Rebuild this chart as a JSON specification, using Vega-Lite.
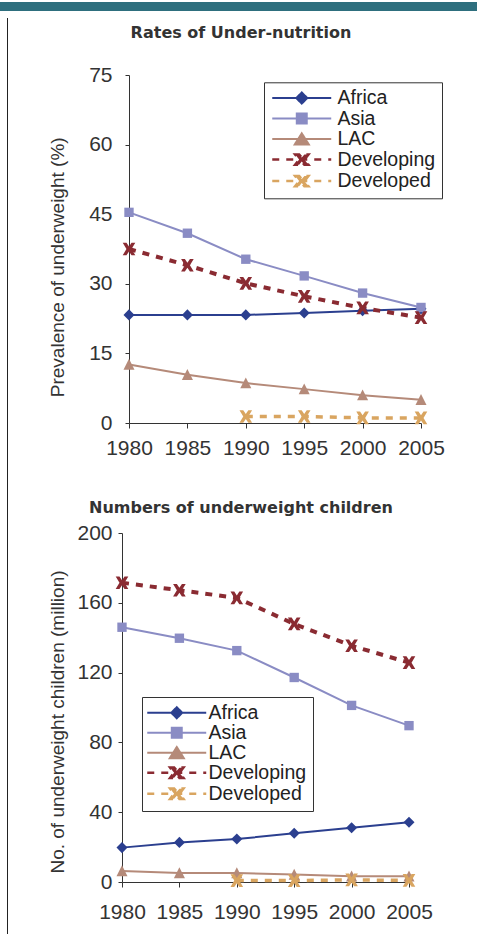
{
  "$schema": "https://vega.github.io/schema/vega-lite/v6.json",
  "padding": 0,
  "spacing": 0,
  "background": "white",
  "config": {
    "view": {"stroke": null},
    "axis": {"grid": false, "domainColor": "#333", "tickColor": "#333", "labelFont": "Liberation Sans", "labelFontSize": 21, "labelColor": "#333", "titleFont": "Liberation Sans", "titleFontSize": 19, "titleFontWeight": "normal", "titleColor": "#333", "labelFlush": false, "labelOverlap": false},
    "title": {"font": "DejaVu Sans", "fontWeight": "bold", "color": "#333", "fontSize": 16},
    "legend": {"title": null, "padding": 6, "strokeColor": "#333", "fillColor": "#ffffff", "labelFont": "Liberation Sans", "labelFontSize": 19.5, "labelColor": "#222", "symbolSize": 144, "symbolStrokeWidth": 2, "labelLimit": 300}
  },
  "datasets": {
    "one": [{"k": 1}],
    "rates": [
      {"series": "Africa", "year": 1980, "value": 23.3},
      {"series": "Africa", "year": 1985, "value": 23.3},
      {"series": "Africa", "year": 1990, "value": 23.3},
      {"series": "Africa", "year": 1995, "value": 23.7},
      {"series": "Africa", "year": 2000, "value": 24.2},
      {"series": "Africa", "year": 2005, "value": 24.6},
      {"series": "Asia", "year": 1980, "value": 45.4},
      {"series": "Asia", "year": 1985, "value": 40.9},
      {"series": "Asia", "year": 1990, "value": 35.3},
      {"series": "Asia", "year": 1995, "value": 31.7},
      {"series": "Asia", "year": 2000, "value": 28.0},
      {"series": "Asia", "year": 2005, "value": 24.9},
      {"series": "LAC", "year": 1980, "value": 12.6},
      {"series": "LAC", "year": 1985, "value": 10.4},
      {"series": "LAC", "year": 1990, "value": 8.6},
      {"series": "LAC", "year": 1995, "value": 7.3},
      {"series": "LAC", "year": 2000, "value": 6.0},
      {"series": "LAC", "year": 2005, "value": 5.0},
      {"series": "Developing", "year": 1980, "value": 37.5},
      {"series": "Developing", "year": 1985, "value": 34.0},
      {"series": "Developing", "year": 1990, "value": 30.1},
      {"series": "Developing", "year": 1995, "value": 27.3},
      {"series": "Developing", "year": 2000, "value": 24.8},
      {"series": "Developing", "year": 2005, "value": 22.7},
      {"series": "Developed", "year": 1990, "value": 1.4},
      {"series": "Developed", "year": 1995, "value": 1.4},
      {"series": "Developed", "year": 2000, "value": 1.1},
      {"series": "Developed", "year": 2005, "value": 1.1}
    ],
    "numbers": [
      {"series": "Africa", "year": 1980, "value": 19.7},
      {"series": "Africa", "year": 1985, "value": 22.7},
      {"series": "Africa", "year": 1990, "value": 24.6},
      {"series": "Africa", "year": 1995, "value": 27.9},
      {"series": "Africa", "year": 2000, "value": 31.1},
      {"series": "Africa", "year": 2005, "value": 34.2},
      {"series": "Asia", "year": 1980, "value": 146.0},
      {"series": "Asia", "year": 1985, "value": 139.7},
      {"series": "Asia", "year": 1990, "value": 132.6},
      {"series": "Asia", "year": 1995, "value": 117.2},
      {"series": "Asia", "year": 2000, "value": 101.2},
      {"series": "Asia", "year": 2005, "value": 89.6},
      {"series": "LAC", "year": 1980, "value": 6.3},
      {"series": "LAC", "year": 1985, "value": 5.2},
      {"series": "LAC", "year": 1990, "value": 5.2},
      {"series": "LAC", "year": 1995, "value": 4.3},
      {"series": "LAC", "year": 2000, "value": 3.3},
      {"series": "LAC", "year": 2005, "value": 3.3},
      {"series": "Developing", "year": 1980, "value": 171.5},
      {"series": "Developing", "year": 1985, "value": 167.2},
      {"series": "Developing", "year": 1990, "value": 162.8},
      {"series": "Developing", "year": 1995, "value": 147.9},
      {"series": "Developing", "year": 2000, "value": 135.4},
      {"series": "Developing", "year": 2005, "value": 125.7},
      {"series": "Developed", "year": 1990, "value": 0.8},
      {"series": "Developed", "year": 1995, "value": 0.8},
      {"series": "Developed", "year": 2000, "value": 1.2},
      {"series": "Developed", "year": 2005, "value": 0.9}
    ]
  },
  "vconcat": [
    {"data": {"name": "one"}, "mark": {"type": "text", "text": ""}, "width": 477, "height": 9, "view": {"fill": "#2e6f7e", "stroke": null}},
    {
      "spacing": 0,
      "hconcat": [
        {"data": {"name": "one"}, "mark": {"type": "text", "text": ""}, "width": 7, "height": 1},
        {"data": {"name": "one"}, "mark": {"type": "text", "text": ""}, "width": 1, "height": 922, "view": {"fill": "#222222", "stroke": null}},
        {"data": {"name": "one"}, "mark": {"type": "text", "text": ""}, "width": 40, "height": 1},
        {
          "spacing": 0,
          "bounds": "flush",
          "resolve": {"scale": {"x": "independent", "y": "independent", "color": "independent", "fill": "independent", "stroke": "independent", "shape": "independent", "strokeDash": "independent", "strokeWidth": "independent"}, "legend": {"color": "independent", "shape": "independent", "fill": "independent", "stroke": "independent", "strokeDash": "independent", "strokeWidth": "independent"}},
          "vconcat": [
            {"data": {"name": "one"}, "mark": {"type": "text", "text": ""}, "width": 1, "height": 56.7},
            {
              "width": 299,
              "height": 348,
              "data": {"name": "rates"},
              "title": {"text": "Rates of Under-nutrition", "anchor": "middle", "frame": "group", "dx": -30.5, "offset": 23},
              "encoding": {
                "x": {"field": "year", "type": "quantitative", "scale": {"domain": [1980, 2005], "range": [7, 299], "nice": false, "zero": false}, "axis": {"values": [1980, 1985, 1990, 1995, 2000, 2005], "format": "d", "title": null, "tickSize": 5, "labelPadding": 9.5}},
                "y": {"field": "value", "type": "quantitative", "scale": {"domain": [0, 75], "nice": false}, "axis": {"values": [0, 15, 30, 45, 60, 75], "offset": -7, "title": "Prevalence of underweight (%)", "tickSize": 4, "labelPadding": 13, "titleX": -61.7, "titleY": 191.8}}
              },
              "layer": [
                {"transform": [{"filter": {"field": "series", "oneOf": ["Africa", "Asia", "LAC"]}}], "mark": {"type": "line", "strokeWidth": 2}, "encoding": {"color": {"field": "series", "type": "nominal", "scale": {"domain": ["Africa", "Asia", "LAC"], "range": ["#2b3f8f", "#8a8cc4", "#b58a79"]}, "legend": null}}},
                {"transform": [{"filter": {"field": "series", "equal": "Developing"}}], "mark": {"type": "line", "strokeWidth": 4, "strokeDash": [7, 7], "color": "#8a2b32"}},
                {"transform": [{"filter": {"field": "series", "equal": "Developed"}}], "mark": {"type": "line", "strokeWidth": 3.5, "strokeDash": [7, 7], "color": "#d9a560"}},
                {"transform": [{"filter": {"field": "series", "equal": "Africa"}}], "mark": {"type": "point", "filled": true, "opacity": 1, "size": 169, "color": "#2b3f8f", "shape": "M0,-0.85L0.85,0L0,0.85L-0.85,0Z"}},
                {"transform": [{"filter": {"field": "series", "equal": "Asia"}}], "mark": {"type": "point", "filled": true, "opacity": 1, "size": 169, "color": "#8a8cc4", "shape": "M-0.72,-0.72L0.72,-0.72L0.72,0.72L-0.72,0.72Z"}},
                {"transform": [{"filter": {"field": "series", "equal": "LAC"}}], "mark": {"type": "point", "filled": true, "opacity": 1, "size": 169, "color": "#b58a79", "shape": "M0,-0.88L0.85,0.8L-0.85,0.8Z"}},
                {"transform": [{"filter": {"field": "series", "equal": "Developing"}}], "mark": {"type": "point", "filled": true, "opacity": 1, "size": 169, "color": "#8a2b32", "shape": "M-0.97,-0.97L-0.39,-0.97L0,-0.39L0.39,-0.97L0.97,-0.97L0.39,0L0.97,0.97L0.39,0.97L0,0.39L-0.39,0.97L-0.97,0.97L-0.39,0Z"}},
                {"transform": [{"filter": {"field": "series", "equal": "Developed"}}], "mark": {"type": "point", "filled": true, "opacity": 1, "size": 169, "color": "#d9a560", "shape": "M-0.97,-0.97L-0.39,-0.97L0,-0.39L0.39,-0.97L0.97,-0.97L0.39,0L0.97,0.97L0.39,0.97L0,0.39L-0.39,0.97L-0.97,0.97L-0.39,0Z"}},
                {
                  "transform": [{"filter": "false"}],
                  "mark": {"type": "point", "opacity": 1},
                  "encoding": {
                    "shape": {"field": "series", "type": "nominal", "scale": {"domain": ["Africa", "Asia", "LAC", "Developing", "Developed"], "range": ["M-1.25,0L8.58,0M3.67,-0.92L4.59,0L3.67,0.92L2.75,0Z", "M-1.25,0L8.58,0M2.84,-0.83L4.5,-0.83L4.5,0.83L2.84,0.83Z", "M-1.25,0L8.58,0M3.67,-0.95L4.84,0.9L2.5,0.9Z", "M-1.25,0L8.58,0M2.57,-0.85L3.23,-0.85L3.67,-0.34L4.11,-0.85L4.77,-0.85L4.11,0L4.77,0.85L4.11,0.85L3.67,0.34L3.23,0.85L2.57,0.85L3.23,0Z", "M-1.25,0L8.58,0M2.57,-0.85L3.23,-0.85L3.67,-0.34L4.11,-0.85L4.77,-0.85L4.11,0L4.77,0.85L4.11,0.85L3.67,0.34L3.23,0.85L2.57,0.85L3.23,0Z"]}, "legend": {"orient": "none", "legendX": 142, "legendY": 7.3, "labelOffset": 48, "rowPadding": -0.5, "title": null}},
                    "fill": {"field": "series", "type": "nominal", "scale": {"domain": ["Africa", "Asia", "LAC", "Developing", "Developed"], "range": ["#2b3f8f", "#8a8cc4", "#b58a79", "#8a2b32", "#d9a560"]}, "legend": {"orient": "none", "legendX": 142, "legendY": 7.3, "labelOffset": 48, "rowPadding": -0.5, "title": null}},
                    "stroke": {"field": "series", "type": "nominal", "scale": {"domain": ["Africa", "Asia", "LAC", "Developing", "Developed"], "range": ["#2b3f8f", "#8a8cc4", "#b58a79", "#8a2b32", "#d9a560"]}, "legend": {"orient": "none", "legendX": 142, "legendY": 7.3, "labelOffset": 48, "rowPadding": -0.5, "title": null}},
                    "strokeDash": {"field": "series", "type": "nominal", "scale": {"domain": ["Africa", "Asia", "LAC", "Developing", "Developed"], "range": [[1, 0], [1, 0], [1, 0], [7, 7], [7, 7]]}, "legend": {"orient": "none", "legendX": 142, "legendY": 7.3, "labelOffset": 48, "rowPadding": -0.5, "title": null}},
                    "strokeWidth": {"field": "series", "type": "nominal", "scale": {"type": "ordinal", "domain": ["Africa", "Asia", "LAC", "Developing", "Developed"], "range": [2, 2, 2, 2.6, 2.6]}, "legend": {"orient": "none", "legendX": 142, "legendY": 7.3, "labelOffset": 48, "rowPadding": -0.5, "title": null}}
                  }
                }
              ]
            },
            {"data": {"name": "one"}, "mark": {"type": "text", "text": ""}, "width": 1, "height": 109.3},
            {
              "width": 287,
              "height": 349,
              "data": {"name": "numbers"},
              "title": {"text": "Numbers of underweight children", "anchor": "middle", "frame": "group", "dx": -24.5, "offset": 6},
              "encoding": {
                "x": {"field": "year", "type": "quantitative", "scale": {"domain": [1980, 2005], "nice": false, "zero": false}, "axis": {"values": [1980, 1985, 1990, 1995, 2000, 2005], "format": "d", "title": null, "tickSize": 5, "labelPadding": 14.5}},
                "y": {"field": "value", "type": "quantitative", "scale": {"domain": [0, 200], "nice": false}, "axis": {"values": [0, 40, 80, 120, 160, 200], "title": "No. of underweight children (million)", "tickSize": 4, "labelPadding": 6, "titleX": -54.7, "titleY": 188.5}}
              },
              "layer": [
                {"transform": [{"filter": {"field": "series", "oneOf": ["Africa", "Asia", "LAC"]}}], "mark": {"type": "line", "strokeWidth": 2}, "encoding": {"color": {"field": "series", "type": "nominal", "scale": {"domain": ["Africa", "Asia", "LAC"], "range": ["#2b3f8f", "#8a8cc4", "#b58a79"]}, "legend": null}}},
                {"transform": [{"filter": {"field": "series", "equal": "Developing"}}], "mark": {"type": "line", "strokeWidth": 4, "strokeDash": [7, 7], "color": "#8a2b32"}},
                {"transform": [{"filter": {"field": "series", "equal": "Developed"}}], "mark": {"type": "line", "strokeWidth": 3.5, "strokeDash": [7, 7], "color": "#d9a560"}},
                {"transform": [{"filter": {"field": "series", "equal": "Africa"}}], "mark": {"type": "point", "filled": true, "opacity": 1, "size": 169, "color": "#2b3f8f", "shape": "M0,-0.85L0.85,0L0,0.85L-0.85,0Z"}},
                {"transform": [{"filter": {"field": "series", "equal": "Asia"}}], "mark": {"type": "point", "filled": true, "opacity": 1, "size": 169, "color": "#8a8cc4", "shape": "M-0.72,-0.72L0.72,-0.72L0.72,0.72L-0.72,0.72Z"}},
                {"transform": [{"filter": {"field": "series", "equal": "LAC"}}], "mark": {"type": "point", "filled": true, "opacity": 1, "size": 169, "color": "#b58a79", "shape": "M0,-0.88L0.85,0.8L-0.85,0.8Z"}},
                {"transform": [{"filter": {"field": "series", "equal": "Developing"}}], "mark": {"type": "point", "filled": true, "opacity": 1, "size": 169, "color": "#8a2b32", "shape": "M-0.97,-0.97L-0.39,-0.97L0,-0.39L0.39,-0.97L0.97,-0.97L0.39,0L0.97,0.97L0.39,0.97L0,0.39L-0.39,0.97L-0.97,0.97L-0.39,0Z"}},
                {"transform": [{"filter": {"field": "series", "equal": "Developed"}}], "mark": {"type": "point", "filled": true, "opacity": 1, "size": 169, "color": "#d9a560", "shape": "M-0.97,-0.97L-0.39,-0.97L0,-0.39L0.39,-0.97L0.97,-0.97L0.39,0L0.97,0.97L0.39,0.97L0,0.39L-0.39,0.97L-0.97,0.97L-0.39,0Z"}},
                {
                  "transform": [{"filter": "false"}],
                  "mark": {"type": "point", "opacity": 1},
                  "encoding": {
                    "shape": {"field": "series", "type": "nominal", "scale": {"domain": ["Africa", "Asia", "LAC", "Developing", "Developed"], "range": ["M-1.75,0L8.08,0M3.17,-0.92L4.09,0L3.17,0.92L2.25,0Z", "M-1.75,0L8.08,0M2.34,-0.83L4,-0.83L4,0.83L2.34,0.83Z", "M-1.75,0L8.08,0M3.17,-0.95L4.34,0.9L2,0.9Z", "M-1.75,0L8.08,0M2.07,-0.85L2.73,-0.85L3.17,-0.34L3.61,-0.85L4.27,-0.85L3.61,0L4.27,0.85L3.61,0.85L3.17,0.34L2.73,0.85L2.07,0.85L2.73,0Z", "M-1.75,0L8.08,0M2.07,-0.85L2.73,-0.85L3.17,-0.34L3.61,-0.85L4.27,-0.85L3.61,0L4.27,0.85L3.61,0.85L3.17,0.34L2.73,0.85L2.07,0.85L2.73,0Z"]}, "legend": {"orient": "none", "legendX": 20, "legendY": 164, "labelOffset": 41, "rowPadding": -2.5, "title": null}},
                    "fill": {"field": "series", "type": "nominal", "scale": {"domain": ["Africa", "Asia", "LAC", "Developing", "Developed"], "range": ["#2b3f8f", "#8a8cc4", "#b58a79", "#8a2b32", "#d9a560"]}, "legend": {"orient": "none", "legendX": 20, "legendY": 164, "labelOffset": 41, "rowPadding": -2.5, "title": null}},
                    "stroke": {"field": "series", "type": "nominal", "scale": {"domain": ["Africa", "Asia", "LAC", "Developing", "Developed"], "range": ["#2b3f8f", "#8a8cc4", "#b58a79", "#8a2b32", "#d9a560"]}, "legend": {"orient": "none", "legendX": 20, "legendY": 164, "labelOffset": 41, "rowPadding": -2.5, "title": null}},
                    "strokeDash": {"field": "series", "type": "nominal", "scale": {"domain": ["Africa", "Asia", "LAC", "Developing", "Developed"], "range": [[1, 0], [1, 0], [1, 0], [7, 7], [7, 7]]}, "legend": {"orient": "none", "legendX": 20, "legendY": 164, "labelOffset": 41, "rowPadding": -2.5, "title": null}},
                    "strokeWidth": {"field": "series", "type": "nominal", "scale": {"type": "ordinal", "domain": ["Africa", "Asia", "LAC", "Developing", "Developed"], "range": [2, 2, 2, 2.6, 2.6]}, "legend": {"orient": "none", "legendX": 20, "legendY": 164, "labelOffset": 41, "rowPadding": -2.5, "title": null}}
                  }
                }
              ]
            }
          ]
        }
      ]
    },
    {"data": {"name": "one"}, "mark": {"type": "text", "text": ""}, "width": 477, "height": 1, "view": {"fill": "#cfcfcf", "stroke": null}}
  ]
}
